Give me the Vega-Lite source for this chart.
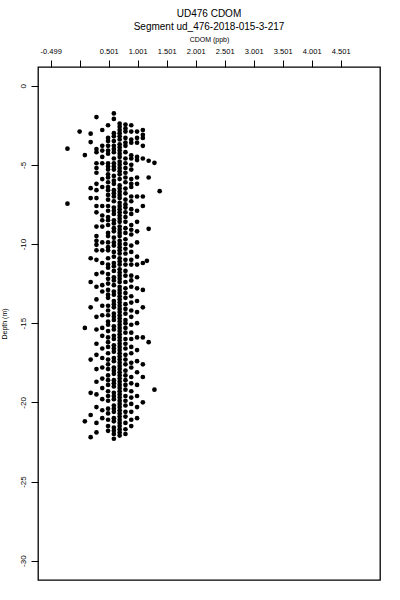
{
  "$schema": "https://vega.github.io/schema/vega-lite/v6.json",
  "autosize": "none",
  "width": 342,
  "height": 513,
  "padding": {"left": 38, "top": 67, "right": 20, "bottom": 20},
  "background": "white",
  "title": {
    "text": "UD476 CDOM",
    "subtitle": "Segment ud_476-2018-015-3-217",
    "anchor": "middle",
    "frame": "group",
    "font": "Liberation Sans",
    "fontSize": 10,
    "fontWeight": "normal",
    "subtitleFont": "Liberation Sans",
    "subtitleFontSize": 10,
    "subtitleColor": "black",
    "color": "black",
    "subtitlePadding": 3,
    "offset": 3
  },
  "config": {
    "view": {"stroke": "black", "strokeWidth": 1.3},
    "font": "Liberation Sans"
  },
  "data": {"values": [
    {"x":-0.21,"y":-3.98},{"x":-0.21,"y":-7.45},{"x":0.0,"y":-2.9},{"x":0.09,"y":-4.38},{"x":0.09,"y":-15.3},{"x":0.09,"y":-21.2},
    {"x":0.19,"y":-3.03},{"x":0.19,"y":-3.56},{"x":0.19,"y":-6.47},{"x":0.19,"y":-7.1},{"x":0.19,"y":-10.9},{"x":0.19,"y":-12.4},{"x":0.19,"y":-14.0},{"x":0.19,"y":-17.3},{"x":0.19,"y":-19.4},{"x":0.19,"y":-20.8},{"x":0.19,"y":-22.2},
    {"x":1.19,"y":-4.74},{"x":1.19,"y":-5.8},{"x":1.19,"y":-9.04},{"x":1.16,"y":-11.06},{"x":1.19,"y":-16.2},
    {"x":1.29,"y":-4.87},{"x":1.29,"y":-19.2},{"x":1.38,"y":-6.66},
    {"x":1.09,"y":-2.8},{"x":1.09,"y":-3.1},{"x":1.09,"y":-3.3},{"x":1.09,"y":-3.8},{"x":1.09,"y":-4.6},{"x":1.09,"y":-7.0},{"x":1.09,"y":-7.6},{"x":1.09,"y":-11.2},{"x":1.09,"y":-12.9},{"x":1.09,"y":-14.0},{"x":1.09,"y":-15.9},{"x":1.09,"y":-17.6},{"x":1.09,"y":-18.4},{"x":1.09,"y":-20.0},
    {"x":0.29,"y":-1.98},{"x":0.29,"y":-4.0},{"x":0.29,"y":-4.2},{"x":0.29,"y":-4.9},{"x":0.29,"y":-5.2},{"x":0.29,"y":-5.5},{"x":0.29,"y":-6.2},{"x":0.29,"y":-6.6},{"x":0.29,"y":-7.1},{"x":0.29,"y":-7.6},{"x":0.29,"y":-8.0},{"x":0.29,"y":-8.9},{"x":0.29,"y":-9.5},{"x":0.29,"y":-9.8},{"x":0.29,"y":-10.05},{"x":0.29,"y":-10.4},{"x":0.29,"y":-11.0},{"x":0.29,"y":-11.9},{"x":0.29,"y":-12.7},{"x":0.29,"y":-13.5},{"x":0.29,"y":-14.6},{"x":0.29,"y":-15.4},{"x":0.29,"y":-16.3},{"x":0.29,"y":-17.0},{"x":0.29,"y":-17.9},{"x":0.29,"y":-18.7},{"x":0.29,"y":-19.5},{"x":0.29,"y":-20.3},{"x":0.29,"y":-21.3},{"x":0.29,"y":-21.9},
    {"x":0.39,"y":-2.8},{"x":0.39,"y":-3.8},{"x":0.39,"y":-4.1},{"x":0.39,"y":-4.5},{"x":0.39,"y":-4.9},{"x":0.39,"y":-5.9},{"x":0.39,"y":-6.4},{"x":0.39,"y":-7.6},{"x":0.39,"y":-8.2},{"x":0.39,"y":-8.5},{"x":0.39,"y":-8.9},{"x":0.39,"y":-9.9},{"x":0.39,"y":-10.4},{"x":0.39,"y":-11.2},{"x":0.39,"y":-11.8},{"x":0.39,"y":-12.6},{"x":0.39,"y":-13.0},{"x":0.39,"y":-13.9},{"x":0.39,"y":-14.5},{"x":0.39,"y":-15.3},{"x":0.39,"y":-15.8},{"x":0.39,"y":-16.6},{"x":0.39,"y":-17.2},{"x":0.39,"y":-17.8},{"x":0.39,"y":-18.5},{"x":0.39,"y":-19.1},{"x":0.39,"y":-19.8},{"x":0.39,"y":-20.5},{"x":0.39,"y":-21.0},
    {"x":0.49,"y":-2.5},{"x":0.49,"y":-3.3},{"x":0.49,"y":-3.5},{"x":0.49,"y":-3.8},{"x":0.49,"y":-4.1},{"x":0.49,"y":-4.3},{"x":0.49,"y":-4.9},{"x":0.49,"y":-5.1},{"x":0.49,"y":-5.3},{"x":0.49,"y":-5.6},{"x":0.49,"y":-5.8},{"x":0.49,"y":-6.1},{"x":0.49,"y":-6.4},{"x":0.49,"y":-6.6},{"x":0.49,"y":-6.9},{"x":0.49,"y":-7.2},{"x":0.49,"y":-7.6},{"x":0.49,"y":-7.9},{"x":0.49,"y":-8.3},{"x":0.49,"y":-8.5},{"x":0.49,"y":-8.8},{"x":0.49,"y":-9.3},{"x":0.49,"y":-9.5},{"x":0.49,"y":-9.9},{"x":0.49,"y":-10.2},{"x":0.49,"y":-10.4},{"x":0.49,"y":-10.9},{"x":0.49,"y":-11.3},{"x":0.49,"y":-11.5},{"x":0.49,"y":-11.9},{"x":0.49,"y":-12.2},{"x":0.49,"y":-12.5},{"x":0.49,"y":-12.9},{"x":0.49,"y":-13.2},{"x":0.49,"y":-13.4},{"x":0.49,"y":-13.9},{"x":0.49,"y":-14.2},{"x":0.49,"y":-14.5},{"x":0.49,"y":-14.9},{"x":0.49,"y":-15.1},{"x":0.49,"y":-15.5},{"x":0.49,"y":-15.9},{"x":0.49,"y":-16.2},{"x":0.49,"y":-16.5},{"x":0.49,"y":-16.9},{"x":0.49,"y":-17.3},{"x":0.49,"y":-17.6},{"x":0.49,"y":-17.9},{"x":0.49,"y":-18.3},{"x":0.49,"y":-18.6},{"x":0.49,"y":-18.9},{"x":0.49,"y":-19.3},{"x":0.49,"y":-19.6},{"x":0.49,"y":-19.9},{"x":0.49,"y":-20.4},{"x":0.49,"y":-20.7},{"x":0.49,"y":-21.1},{"x":0.49,"y":-21.5},{"x":0.49,"y":-21.8},
    {"x":0.59,"y":-1.75},{"x":0.59,"y":-2.1},{"x":0.59,"y":-3.0},{"x":0.59,"y":-3.2},{"x":0.59,"y":-3.5},{"x":0.59,"y":-3.8},{"x":0.59,"y":-4.0},{"x":0.59,"y":-4.2},{"x":0.59,"y":-4.6},{"x":0.59,"y":-4.9},{"x":0.59,"y":-5.1},{"x":0.59,"y":-5.3},{"x":0.59,"y":-5.7},{"x":0.59,"y":-6.0},{"x":0.59,"y":-6.2},{"x":0.59,"y":-6.6},{"x":0.59,"y":-6.8},{"x":0.59,"y":-7.0},{"x":0.59,"y":-7.3},{"x":0.59,"y":-7.7},{"x":0.59,"y":-7.9},{"x":0.59,"y":-8.1},{"x":0.59,"y":-8.5},{"x":0.59,"y":-8.7},{"x":0.59,"y":-9.0},{"x":0.59,"y":-9.2},{"x":0.59,"y":-9.6},{"x":0.59,"y":-9.9},{"x":0.59,"y":-10.1},{"x":0.59,"y":-10.5},{"x":0.59,"y":-10.8},{"x":0.59,"y":-11.2},{"x":0.59,"y":-11.4},{"x":0.59,"y":-11.7},{"x":0.59,"y":-12.1},{"x":0.59,"y":-12.3},{"x":0.59,"y":-12.6},{"x":0.59,"y":-13.0},{"x":0.59,"y":-13.2},{"x":0.59,"y":-13.6},{"x":0.59,"y":-13.8},{"x":0.59,"y":-14.0},{"x":0.59,"y":-14.4},{"x":0.59,"y":-14.6},{"x":0.59,"y":-14.8},{"x":0.59,"y":-15.2},{"x":0.59,"y":-15.4},{"x":0.59,"y":-15.8},{"x":0.59,"y":-16.0},{"x":0.59,"y":-16.4},{"x":0.59,"y":-16.6},{"x":0.59,"y":-16.8},{"x":0.59,"y":-17.2},{"x":0.59,"y":-17.4},{"x":0.59,"y":-17.8},{"x":0.59,"y":-18.0},{"x":0.59,"y":-18.2},{"x":0.59,"y":-18.6},{"x":0.59,"y":-18.8},{"x":0.59,"y":-19.0},{"x":0.59,"y":-19.4},{"x":0.59,"y":-19.6},{"x":0.59,"y":-19.8},{"x":0.59,"y":-20.2},{"x":0.59,"y":-20.4},{"x":0.59,"y":-20.6},{"x":0.59,"y":-21.0},{"x":0.59,"y":-21.2},{"x":0.59,"y":-21.6},{"x":0.59,"y":-21.8},{"x":0.59,"y":-22.0},{"x":0.59,"y":-22.3},
    {"x":0.69,"y":-2.4},{"x":0.69,"y":-2.6},{"x":0.69,"y":-2.8},{"x":0.69,"y":-3.0},{"x":0.69,"y":-3.2},{"x":0.69,"y":-3.4},{"x":0.69,"y":-3.7},{"x":0.69,"y":-3.9},{"x":0.69,"y":-4.1},{"x":0.69,"y":-4.3},{"x":0.69,"y":-4.5},{"x":0.69,"y":-4.8},{"x":0.69,"y":-5.0},{"x":0.69,"y":-5.2},{"x":0.69,"y":-5.4},{"x":0.69,"y":-5.6},{"x":0.69,"y":-5.9},{"x":0.69,"y":-6.3},{"x":0.69,"y":-6.5},{"x":0.69,"y":-6.7},{"x":0.69,"y":-6.9},{"x":0.69,"y":-7.1},{"x":0.69,"y":-7.4},{"x":0.69,"y":-7.6},{"x":0.69,"y":-7.8},{"x":0.69,"y":-8.0},{"x":0.69,"y":-8.2},{"x":0.69,"y":-8.4},{"x":0.69,"y":-8.6},{"x":0.69,"y":-8.9},{"x":0.69,"y":-9.1},{"x":0.69,"y":-9.3},{"x":0.69,"y":-9.5},{"x":0.69,"y":-9.8},{"x":0.69,"y":-10.0},{"x":0.69,"y":-10.2},{"x":0.69,"y":-10.4},{"x":0.69,"y":-10.6},{"x":0.69,"y":-10.9},{"x":0.69,"y":-11.1},{"x":0.69,"y":-11.3},{"x":0.69,"y":-11.6},{"x":0.69,"y":-11.8},{"x":0.69,"y":-12.0},{"x":0.69,"y":-12.2},{"x":0.69,"y":-12.4},{"x":0.69,"y":-12.7},{"x":0.69,"y":-12.9},{"x":0.69,"y":-13.1},{"x":0.69,"y":-13.3},{"x":0.69,"y":-13.5},{"x":0.69,"y":-13.7},{"x":0.69,"y":-13.9},{"x":0.69,"y":-14.1},{"x":0.69,"y":-14.3},{"x":0.69,"y":-14.5},{"x":0.69,"y":-14.7},{"x":0.69,"y":-14.9},{"x":0.69,"y":-15.1},{"x":0.69,"y":-15.3},{"x":0.69,"y":-15.5},{"x":0.69,"y":-15.7},{"x":0.69,"y":-15.9},{"x":0.69,"y":-16.1},{"x":0.69,"y":-16.3},{"x":0.69,"y":-16.5},{"x":0.69,"y":-16.7},{"x":0.69,"y":-16.9},{"x":0.69,"y":-17.1},{"x":0.69,"y":-17.3},{"x":0.69,"y":-17.5},{"x":0.69,"y":-17.7},{"x":0.69,"y":-17.9},{"x":0.69,"y":-18.1},{"x":0.69,"y":-18.3},{"x":0.69,"y":-18.5},{"x":0.69,"y":-18.7},{"x":0.69,"y":-18.9},{"x":0.69,"y":-19.1},{"x":0.69,"y":-19.3},{"x":0.69,"y":-19.5},{"x":0.69,"y":-19.7},{"x":0.69,"y":-19.9},{"x":0.69,"y":-20.1},{"x":0.69,"y":-20.3},{"x":0.69,"y":-20.5},{"x":0.69,"y":-20.7},{"x":0.69,"y":-20.9},{"x":0.69,"y":-21.1},{"x":0.69,"y":-21.3},{"x":0.69,"y":-21.5},{"x":0.69,"y":-21.7},{"x":0.69,"y":-21.9},{"x":0.69,"y":-22.1},
    {"x":0.79,"y":-2.45},{"x":0.79,"y":-2.7},{"x":0.79,"y":-2.9},{"x":0.79,"y":-3.3},{"x":0.79,"y":-3.6},{"x":0.79,"y":-3.8},{"x":0.79,"y":-4.2},{"x":0.79,"y":-4.6},{"x":0.79,"y":-4.9},{"x":0.79,"y":-5.2},{"x":0.79,"y":-5.5},{"x":0.79,"y":-5.8},{"x":0.79,"y":-6.1},{"x":0.79,"y":-6.5},{"x":0.79,"y":-6.8},{"x":0.79,"y":-7.2},{"x":0.79,"y":-7.5},{"x":0.79,"y":-7.7},{"x":0.79,"y":-8.0},{"x":0.79,"y":-8.3},{"x":0.79,"y":-8.6},{"x":0.79,"y":-9.0},{"x":0.79,"y":-9.3},{"x":0.79,"y":-9.7},{"x":0.79,"y":-10.0},{"x":0.79,"y":-10.3},{"x":0.79,"y":-10.6},{"x":0.79,"y":-11.0},{"x":0.79,"y":-11.3},{"x":0.79,"y":-11.7},{"x":0.79,"y":-12.0},{"x":0.79,"y":-12.4},{"x":0.79,"y":-12.8},{"x":0.79,"y":-13.1},{"x":0.79,"y":-13.4},{"x":0.79,"y":-13.8},{"x":0.79,"y":-14.1},{"x":0.79,"y":-14.4},{"x":0.79,"y":-14.8},{"x":0.79,"y":-15.0},{"x":0.79,"y":-15.3},{"x":0.79,"y":-15.6},{"x":0.79,"y":-16.0},{"x":0.79,"y":-16.3},{"x":0.79,"y":-16.6},{"x":0.79,"y":-17.0},{"x":0.79,"y":-17.3},{"x":0.79,"y":-17.6},{"x":0.79,"y":-18.0},{"x":0.79,"y":-18.3},{"x":0.79,"y":-18.6},{"x":0.79,"y":-18.9},{"x":0.79,"y":-19.2},{"x":0.79,"y":-19.6},{"x":0.79,"y":-19.9},{"x":0.79,"y":-20.2},{"x":0.79,"y":-20.6},{"x":0.79,"y":-20.9},{"x":0.79,"y":-21.3},{"x":0.79,"y":-21.7},{"x":0.79,"y":-22.0},
    {"x":0.89,"y":-2.5},{"x":0.89,"y":-2.9},{"x":0.89,"y":-3.4},{"x":0.89,"y":-3.6},{"x":0.89,"y":-4.4},{"x":0.89,"y":-4.6},{"x":0.89,"y":-5.0},{"x":0.89,"y":-5.3},{"x":0.89,"y":-5.9},{"x":0.89,"y":-6.2},{"x":0.89,"y":-6.4},{"x":0.89,"y":-7.0},{"x":0.89,"y":-7.3},{"x":0.89,"y":-7.8},{"x":0.89,"y":-8.1},{"x":0.89,"y":-8.8},{"x":0.89,"y":-9.1},{"x":0.89,"y":-9.4},{"x":0.89,"y":-10.1},{"x":0.89,"y":-10.5},{"x":0.89,"y":-11.0},{"x":0.89,"y":-11.3},{"x":0.89,"y":-12.0},{"x":0.89,"y":-12.3},{"x":0.89,"y":-12.7},{"x":0.89,"y":-13.3},{"x":0.89,"y":-13.7},{"x":0.89,"y":-14.2},{"x":0.89,"y":-14.6},{"x":0.89,"y":-15.1},{"x":0.89,"y":-15.6},{"x":0.89,"y":-16.0},{"x":0.89,"y":-16.5},{"x":0.89,"y":-16.9},{"x":0.89,"y":-17.5},{"x":0.89,"y":-17.8},{"x":0.89,"y":-18.4},{"x":0.89,"y":-18.8},{"x":0.89,"y":-19.3},{"x":0.89,"y":-19.7},{"x":0.89,"y":-20.1},{"x":0.89,"y":-20.6},{"x":0.89,"y":-21.1},{"x":0.89,"y":-21.5},
    {"x":0.99,"y":-2.9},{"x":0.99,"y":-3.3},{"x":0.99,"y":-3.6},{"x":0.99,"y":-4.5},{"x":0.99,"y":-4.7},{"x":0.99,"y":-5.8},{"x":0.99,"y":-6.2},{"x":0.99,"y":-7.0},{"x":0.99,"y":-7.9},{"x":0.99,"y":-8.6},{"x":0.99,"y":-9.2},{"x":0.99,"y":-9.9},{"x":0.99,"y":-10.8},{"x":0.99,"y":-11.3},{"x":0.99,"y":-12.1},{"x":0.99,"y":-12.8},{"x":0.99,"y":-13.6},{"x":0.99,"y":-14.3},{"x":0.99,"y":-15.0},{"x":0.99,"y":-15.9},{"x":0.99,"y":-16.7},{"x":0.99,"y":-17.4},{"x":0.99,"y":-18.1},{"x":0.99,"y":-18.9},{"x":0.99,"y":-19.6},{"x":0.99,"y":-20.3},{"x":0.99,"y":-21.0}
  ]},
  "mark": {"type": "circle", "size": 22, "color": "black", "opacity": 1},
  "encoding": {
    "x": {
      "field": "x", "type": "quantitative",
      "scale": {"domain": [-0.718, 5.179], "nice": false, "zero": false},
      "axis": {
        "orient": "top",
        "title": "CDOM (ppb)",
        "titleFont": "Liberation Sans", "titleFontSize": 7, "titleFontWeight": "normal", "titleColor": "black", "titlePadding": 5,
        "values": [-0.499, 0.001, 0.501, 1.001, 1.501, 2.001, 2.501, 3.001, 3.501, 4.001, 4.501],
        "labelExpr": "datum.value < -0.4 ? '-0.499' : (abs(datum.value - 0.001) < 0.01 ? '' : format(datum.value, '.3f'))",
        "labelFont": "Liberation Sans", "labelFontSize": 7.5, "labelColor": "black", "labelPadding": 5,
        "labelOverlap": false, "labelFlush": false,
        "domain": false, "grid": false,
        "ticks": true, "tickSize": 7, "tickColor": "black", "tickWidth": 1
      }
    },
    "y": {
      "field": "y", "type": "quantitative",
      "scale": {"domain": [-31.22, 1.18], "nice": false, "zero": false},
      "axis": {
        "title": "Depth (m)",
        "titleFont": "Liberation Sans", "titleFontSize": 7, "titleFontWeight": "normal", "titleColor": "black", "titlePadding": 12,
        "values": [0, -5, -10, -15, -20, -25, -30],
        "labelExpr": "datum.value == 0 ? '0' : '-' + abs(datum.value)",
        "labelFont": "Liberation Sans", "labelFontSize": 8, "labelColor": "black",
        "labelAngle": -90, "labelAlign": "center", "labelBaseline": "bottom", "labelPadding": 4,
        "labelOverlap": false, "labelFlush": false,
        "domain": false, "grid": false,
        "ticks": true, "tickSize": 7, "tickColor": "black", "tickWidth": 1
      }
    }
  }
}
